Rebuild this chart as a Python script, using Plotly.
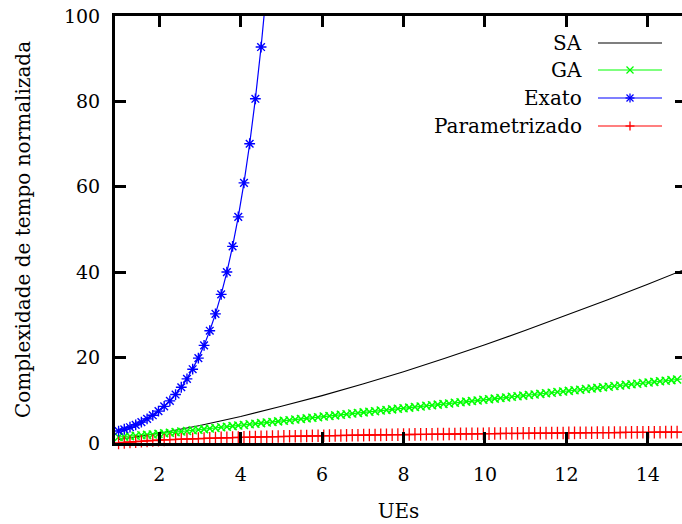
import plotly.graph_objects as go

# ---------------- data ----------------
ue_x = [round(1 + 0.14 * k, 2) for k in range(101)]  # sampled UE positions

sa_x = [1, 2, 3, 4, 5, 6, 7, 8, 9, 10, 11, 12, 13, 14, 15]
sa_y = [0.8, 2.3, 4.1, 6.2, 8.6, 11.1, 13.8, 16.7, 19.8, 23.0, 26.4, 29.9, 33.5, 37.2, 41.0]

ga_y = [1.4, 1.5, 1.6, 1.7, 1.8, 1.9, 2.0, 2.13, 2.27, 2.41,
        2.55, 2.69, 2.83, 2.97, 3.11, 3.25, 3.39, 3.53, 3.67, 3.81,
        3.95, 4.09, 4.23, 4.37, 4.51, 4.65, 4.79, 4.93, 5.07, 5.21,
        5.35, 5.49, 5.63, 5.77, 5.91, 6.05, 6.19, 6.33, 6.47, 6.61,
        6.75, 6.89, 7.03, 7.17, 7.31, 7.45, 7.59, 7.73, 7.87, 8.01,
        8.15, 8.29, 8.43, 8.57, 8.71, 8.85, 8.99, 9.13, 9.27, 9.41,
        9.55, 9.69, 9.83, 9.97, 10.11, 10.25, 10.39, 10.53, 10.67, 10.81,
        10.95, 11.09, 11.23, 11.37, 11.51, 11.65, 11.79, 11.93, 12.07, 12.21,
        12.35, 12.49, 12.63, 12.77, 12.91, 13.05, 13.19, 13.33, 13.47, 13.61,
        13.75, 13.89, 14.03, 14.17, 14.31, 14.45, 14.59, 14.73, 14.87, 15.01,
        15.15]

exato_y = [2.8, 3.22, 3.70, 4.26, 4.90, 5.64, 6.49, 7.46, 8.58, 9.87,
           11.35, 13.06, 15.02, 17.28, 19.88, 22.87, 26.30, 30.25, 34.80, 40.03,
           46.04, 52.96, 60.92, 70.08, 80.61, 92.73, 106.7]

param_y = [0.0, 0.12, 0.23, 0.33, 0.42, 0.50, 0.58, 0.65, 0.71, 0.77,
           0.83, 0.89, 0.94, 0.98, 1.03, 1.07, 1.12, 1.16, 1.20, 1.23,
           1.27, 1.30, 1.34, 1.37, 1.40, 1.43, 1.46, 1.49, 1.51, 1.54,
           1.57, 1.59, 1.62, 1.64, 1.66, 1.69, 1.71, 1.73, 1.75, 1.77,
           1.79, 1.81, 1.83, 1.85, 1.87, 1.89, 1.91, 1.92, 1.94, 1.96,
           1.98, 1.99, 2.01, 2.02, 2.04, 2.06, 2.07, 2.09, 2.10, 2.11,
           2.13, 2.14, 2.16, 2.17, 2.18, 2.20, 2.21, 2.22, 2.24, 2.25,
           2.26, 2.27, 2.28, 2.30, 2.31, 2.32, 2.33, 2.34, 2.35, 2.37,
           2.38, 2.39, 2.40, 2.41, 2.42, 2.43, 2.44, 2.45, 2.46, 2.47,
           2.48, 2.49, 2.50, 2.51, 2.52, 2.53, 2.54, 2.55, 2.55, 2.56,
           2.57]

series_names = ["SA", "GA", "Exato", "Parametrizado"]
series_colors = ["#000000", "#00ff00", "#0000ff", "#ff0000"]
x_ticks = [2, 4, 6, 8, 10, 12, 14]
y_ticks = [0, 20, 40, 60, 80, 100]

# ---------------- layout constants ----------------
W, H = 682, 524
ML, MR, MT, MB = 115, 0, 16, 81
FONT = "DejaVu Serif"
FS = 19
FS_TITLE = 20
FS_LEG = 20

fig = go.Figure()
fig.add_trace(go.Scatter(x=sa_x, y=sa_y, mode="lines", name=series_names[0],
                         line=dict(color=series_colors[0], width=1.1)))
fig.add_trace(go.Scatter(x=ue_x, y=ga_y, mode="lines+markers", name=series_names[1],
                         line=dict(color=series_colors[1], width=1.2),
                         marker=dict(symbol="x-thin-open", size=8,
                                     line=dict(color=series_colors[1], width=1.5))))
fig.add_trace(go.Scatter(x=ue_x[:len(exato_y)], y=exato_y, mode="lines+markers",
                         name=series_names[2],
                         line=dict(color=series_colors[2], width=1.2),
                         marker=dict(symbol="asterisk-open", size=9,
                                     line=dict(color=series_colors[2], width=1.4))))
fig.add_trace(go.Scatter(x=ue_x, y=param_y, mode="lines+markers", name=series_names[3],
                         cliponaxis=False,
                         line=dict(color=series_colors[3], width=1.2),
                         marker=dict(symbol="cross-thin-open", size=9,
                                     line=dict(color=series_colors[3], width=1.3))))
# dummy trace so the right-hand tick axis is rendered
fig.add_trace(go.Scatter(x=[None], y=[None], yaxis="y2", showlegend=False,
                         hoverinfo="skip"))

pw = W - ML - MR
ph = H - MT - MB


def px_x(p):
    return (p - ML) / pw


def px_y(p):
    return (H - MB - p) / ph


# ---------------- manual legend (gnuplot style) ----------------
rows = [43, 70, 98, 126]
shapes = []
annotations = []
for i, (name, col) in enumerate(zip(series_names, series_colors)):
    yy = rows[i]
    annotations.append(dict(x=px_x(584), y=px_y(yy), xref="paper", yref="paper",
                            text=name, showarrow=False, xanchor="right",
                            yanchor="middle",
                            font=dict(family=FONT, size=FS_LEG, color="black")))
    shapes.append(dict(type="line", xref="paper", yref="paper",
                       x0=px_x(598), x1=px_x(662), y0=px_y(yy), y1=px_y(yy),
                       line=dict(color=col, width=1.2)))
    cx = 630
    s = 3.5
    strokes = []
    if name == "GA":
        strokes = [(-s, -s, s, s), (-s, s, s, -s)]
    elif name == "Exato":
        strokes = [(-s, -s, s, s), (-s, s, s, -s), (0, -4.5, 0, 4.5), (-4.5, 0, 4.5, 0)]
    elif name == "Parametrizado":
        strokes = [(0, -4.5, 0, 4.5), (-4.5, 0, 4.5, 0)]
    for (a, b, c, d) in strokes:
        shapes.append(dict(type="line", xref="paper", yref="paper",
                           x0=px_x(cx + a), x1=px_x(cx + c),
                           y0=px_y(yy + b), y1=px_y(yy + d),
                           line=dict(color=col, width=1.3)))

axis_common = dict(showgrid=False, zeroline=False, ticks="inside", ticklen=11,
                   tickwidth=3, tickcolor="black", showline=True, linewidth=3,
                   linecolor="black",
                   tickfont=dict(family=FONT, size=FS, color="black"))

fig.update_layout(
    width=W, height=H,
    margin=dict(l=ML, r=MR, t=MT, b=MB, pad=0),
    paper_bgcolor="white", plot_bgcolor="white",
    showlegend=False,
    font=dict(family=FONT, size=FS, color="black"),
    xaxis=dict(range=[0.912, 14.84], tickvals=x_ticks, mirror="ticks",
               ticklabelstandoff=12,
               title=dict(text="UEs", font=dict(family=FONT, size=FS_TITLE), standoff=21),
               **axis_common),
    yaxis=dict(range=[0, 100], tickvals=y_ticks, mirror=False,
               ticklabelstandoff=8,
               title=dict(text="Complexidade de tempo normalizada",
                          font=dict(family=FONT, size=FS_TITLE), standoff=28),
               **axis_common),
    yaxis2=dict(range=[0, 100], tickvals=y_ticks, overlaying="y", side="right",
                anchor="x", showgrid=False, zeroline=False, ticks="inside",
                ticklen=7, tickwidth=3, tickcolor="black", showline=False,
                showticklabels=False),
    shapes=shapes,
    annotations=annotations,
)

fig.write_html("out.html")
